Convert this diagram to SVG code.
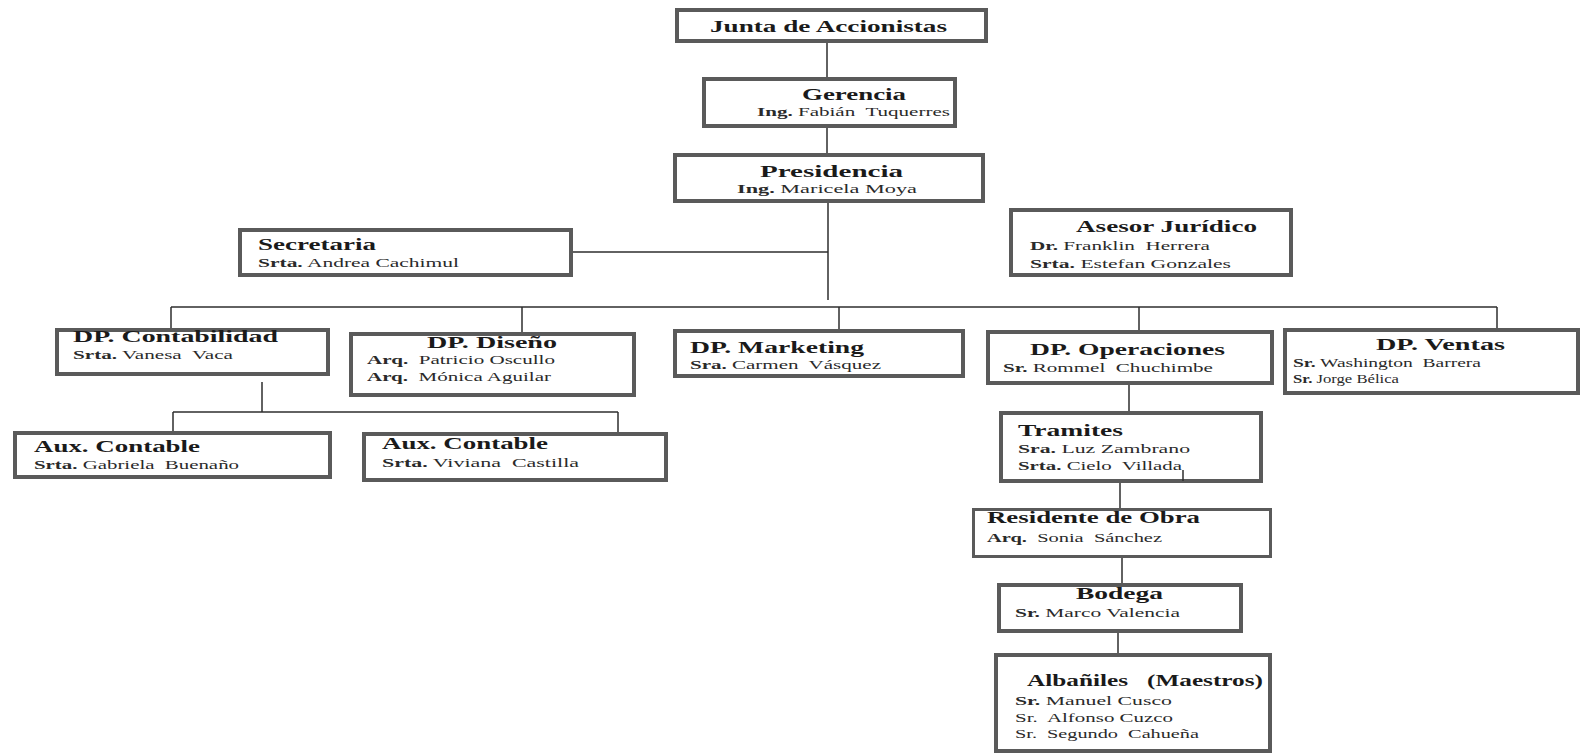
<svg xmlns="http://www.w3.org/2000/svg" width="1580" height="755" viewBox="0 0 1580 755">
<style>
.box{fill:#fff;stroke:#5a5a5a;stroke-width:4}
.thin{stroke-width:3}
.t{font-family:"Liberation Serif","Times New Roman",serif;font-weight:bold;font-size:17px;fill:#1a1a1a}
.n{font-family:"Liberation Serif","Times New Roman",serif;font-size:13.5px;fill:#2a2a2a}
.b{font-weight:bold}
.c line{stroke:#2e2e2e;stroke-width:1.5}
</style>
<rect width="1580" height="755" fill="#fff"/>
<g id="junta">
<rect class="box" x="677" y="10" width="309" height="31"/>
<text class="t" x="710" y="32" textLength="237" lengthAdjust="spacingAndGlyphs">Junta de Accionistas</text>
</g>
<g id="gerencia">
<rect class="box" x="704" y="79" width="251" height="47"/>
<text class="t" x="802" y="100" textLength="104" lengthAdjust="spacingAndGlyphs">Gerencia</text>
<text class="n" x="757" y="116" textLength="193" lengthAdjust="spacingAndGlyphs"><tspan class="b">Ing.</tspan> Fabián&#160; Tuquerres</text>
</g>
<g id="presidencia">
<rect class="box" x="675" y="155" width="308" height="46"/>
<text class="t" x="760" y="177" textLength="143" lengthAdjust="spacingAndGlyphs">Presidencia</text>
<text class="n" x="737" y="193" textLength="180" lengthAdjust="spacingAndGlyphs"><tspan class="b">Ing.</tspan> Maricela Moya</text>
</g>
<g id="secretaria">
<rect class="box" x="240" y="230" width="331" height="45"/>
<text class="t" x="258" y="250" textLength="118" lengthAdjust="spacingAndGlyphs">Secretaria</text>
<text class="n" x="258" y="267" textLength="201" lengthAdjust="spacingAndGlyphs"><tspan class="b">Srta.</tspan> Andrea Cachimul</text>
</g>
<g id="asesor">
<rect class="box" x="1011" y="210" width="280" height="65"/>
<text class="t" x="1076" y="232" textLength="181" lengthAdjust="spacingAndGlyphs">Asesor Jurídico</text>
<text class="n" x="1030" y="250" textLength="180" lengthAdjust="spacingAndGlyphs"><tspan class="b">Dr.</tspan> Franklin&#160; Herrera</text>
<text class="n" x="1030" y="268" textLength="201" lengthAdjust="spacingAndGlyphs"><tspan class="b">Srta.</tspan> Estefan Gonzales</text>
</g>
<g id="contabilidad">
<rect class="box" x="57" y="330" width="271" height="44"/>
<text class="t" x="73" y="342" textLength="205" lengthAdjust="spacingAndGlyphs">DP. Contabilidad</text>
<text class="n" x="73" y="359" textLength="160" lengthAdjust="spacingAndGlyphs"><tspan class="b">Srta.</tspan> Vanesa&#160; Vaca</text>
</g>
<g id="diseno">
<rect class="box" x="351" y="334" width="283" height="61"/>
<text class="t" x="427" y="348" textLength="130" lengthAdjust="spacingAndGlyphs">DP. Diseño</text>
<text class="n" x="367" y="364" textLength="188" lengthAdjust="spacingAndGlyphs"><tspan class="b">Arq.</tspan>&#160; Patricio Oscullo</text>
<text class="n" x="367" y="381" textLength="184" lengthAdjust="spacingAndGlyphs"><tspan class="b">Arq.</tspan>&#160; Mónica Aguilar</text>
</g>
<g id="marketing">
<rect class="box" x="675" y="331" width="288" height="45"/>
<text class="t" x="690" y="353" textLength="174" lengthAdjust="spacingAndGlyphs">DP. Marketing</text>
<text class="n" x="690" y="369" textLength="191" lengthAdjust="spacingAndGlyphs"><tspan class="b">Sra.</tspan> Carmen&#160; Vásquez</text>
</g>
<g id="operaciones">
<rect class="box" x="988" y="332" width="284" height="51"/>
<text class="t" x="1030" y="355" textLength="195" lengthAdjust="spacingAndGlyphs">DP. Operaciones</text>
<text class="n" x="1003" y="372" textLength="210" lengthAdjust="spacingAndGlyphs"><tspan class="b">Sr.</tspan> Rommel&#160; Chuchimbe</text>
</g>
<g id="ventas">
<rect class="box" x="1285" y="330" width="293" height="63"/>
<text class="t" x="1376" y="350" textLength="129" lengthAdjust="spacingAndGlyphs">DP. Ventas</text>
<text class="n" x="1293" y="367" textLength="188" lengthAdjust="spacingAndGlyphs"><tspan class="b">Sr.</tspan> Washington&#160; Barrera</text>
<text class="n" x="1293" y="383" textLength="106" lengthAdjust="spacingAndGlyphs"><tspan class="b">Sr.</tspan> Jorge Bélica</text>
</g>
<g id="aux1">
<rect class="box" x="15" y="433" width="315" height="44"/>
<text class="t" x="34" y="452" textLength="166" lengthAdjust="spacingAndGlyphs">Aux. Contable</text>
<text class="n" x="34" y="469" textLength="205" lengthAdjust="spacingAndGlyphs"><tspan class="b">Srta.</tspan> Gabriela&#160; Buenaño</text>
</g>
<g id="aux2">
<rect class="box" x="364" y="434" width="302" height="46"/>
<text class="t" x="382" y="449" textLength="166" lengthAdjust="spacingAndGlyphs">Aux. Contable</text>
<text class="n" x="382" y="467" textLength="197" lengthAdjust="spacingAndGlyphs"><tspan class="b">Srta.</tspan> Viviana&#160; Castilla</text>
</g>
<g id="tramites">
<rect class="box" x="1001" y="413" width="260" height="68"/>
<text class="t" x="1018" y="436" textLength="105" lengthAdjust="spacingAndGlyphs">Tramites</text>
<text class="n" x="1018" y="453" textLength="172" lengthAdjust="spacingAndGlyphs"><tspan class="b">Sra.</tspan> Luz Zambrano</text>
<text class="n" x="1018" y="470" textLength="164" lengthAdjust="spacingAndGlyphs"><tspan class="b">Srta.</tspan> Cielo&#160; Villada</text>
</g>
<g id="residente">
<rect class="box thin" x="973.5" y="509.5" width="297" height="47"/>
<text class="t" x="987" y="523" textLength="213" lengthAdjust="spacingAndGlyphs">Residente de Obra</text>
<text class="n" x="987" y="542" textLength="175" lengthAdjust="spacingAndGlyphs"><tspan class="b">Arq.</tspan>&#160; Sonia&#160; Sánchez</text>
</g>
<g id="bodega">
<rect class="box" x="999" y="585" width="242" height="46"/>
<text class="t" x="1076" y="599" textLength="87" lengthAdjust="spacingAndGlyphs">Bodega</text>
<text class="n" x="1015" y="617" textLength="165" lengthAdjust="spacingAndGlyphs"><tspan class="b">Sr.</tspan> Marco Valencia</text>
</g>
<g id="albaniles">
<rect class="box" x="996" y="655" width="274" height="96"/>
<text class="t" x="1027" y="686" textLength="236" lengthAdjust="spacingAndGlyphs">Albañiles&#160;&#160; (Maestros)</text>
<text class="n" x="1015" y="705" textLength="157" lengthAdjust="spacingAndGlyphs"><tspan class="b">Sr.</tspan> Manuel Cusco</text>
<text class="n" x="1015" y="722" textLength="158" lengthAdjust="spacingAndGlyphs">Sr.&#160; Alfonso Cuzco</text>
<text class="n" x="1015" y="738" textLength="184" lengthAdjust="spacingAndGlyphs">Sr.&#160; Segundo&#160; Cahueña</text>
</g>
<g class="c" id="connectors">
<line x1="827" y1="43" x2="827" y2="77"/>
<line x1="827" y1="128" x2="827" y2="153"/>
<line x1="828" y1="203" x2="828" y2="300"/>
<line x1="573" y1="252" x2="828" y2="252"/>
<line x1="171" y1="307" x2="1497" y2="307"/>
<line x1="171" y1="307" x2="171" y2="328"/>
<line x1="522" y1="307" x2="522" y2="332"/>
<line x1="839" y1="307" x2="839" y2="329"/>
<line x1="1139" y1="307" x2="1139" y2="330"/>
<line x1="1497" y1="307" x2="1497" y2="328"/>
<line x1="262" y1="382" x2="262" y2="412"/>
<line x1="173" y1="412" x2="618" y2="412"/>
<line x1="173" y1="412" x2="173" y2="431"/>
<line x1="618" y1="412" x2="618" y2="432"/>
<line x1="1129" y1="385" x2="1129" y2="411"/>
<line x1="1120" y1="483" x2="1120" y2="508"/>
<line x1="1122" y1="558" x2="1122" y2="583"/>
<line x1="1118" y1="633" x2="1118" y2="653"/>
<line x1="1183" y1="470" x2="1183" y2="481"/>
</g>
</svg>
